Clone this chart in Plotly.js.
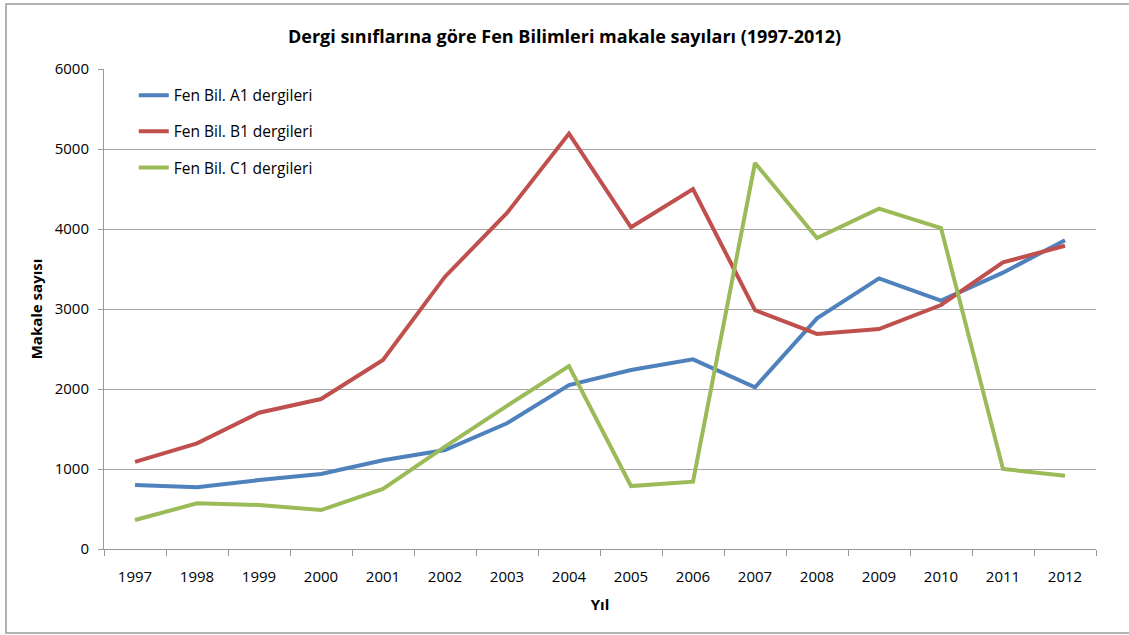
<!DOCTYPE html>
<html>
<head>
<meta charset="utf-8">
<script src="https://cdn.plot.ly/plotly-3.0.1.min.js"></script>
<style>
  html, body { margin: 0; padding: 0; background: #fff; }
  #chart { width: 1129px; height: 635px; }
</style>
</head>
<body>
<div id="chart"></div>
<script>
const years = ['1997','1998','1999','2000','2001','2002','2003','2004','2005','2006','2007','2008','2009','2010','2011','2012'];
const seriesA1 = [800, 771, 862, 937, 1110, 1237, 1571, 2050, 2237, 2371, 2021, 2883, 3383, 3104, 3454, 3860];
const seriesB1 = [1090, 1321, 1704, 1875, 2362, 3404, 4200, 5192, 4021, 4500, 2985, 2688, 2750, 3050, 3583, 3790];
const seriesC1 = [362, 571, 550, 487, 750, 1279, 1790, 2287, 787, 842, 4825, 3888, 4254, 4012, 1000, 917];
const names = ['Fen Bil. A1 dergileri', 'Fen Bil. B1 dergileri', 'Fen Bil. C1 dergileri'];
const colors = ['#4F81BD', '#C0504D', '#9BBB59'];

const font = 'Open Sans, Noto Sans, sans-serif';
const data = [seriesA1, seriesB1, seriesC1].map((vals, i) => ({
  type: 'scatter',
  mode: 'lines',
  x: years,
  y: vals,
  name: names[i],
  legendgroup: 'g' + i,
  line: { color: colors[i], width: 4 }
}));

const layout = {
  width: 1129,
  height: 635,
  margin: { l: 104, r: 33, t: 69, b: 86 },
  paper_bgcolor: '#ffffff',
  plot_bgcolor: '#ffffff',
  font: { family: font, size: 15, color: '#000' },
  title: {
    text: '<b>Dergi sınıflarına göre Fen Bilimleri makale sayıları (1997-2012)</b>',
    font: { family: font, size: 18, color: '#000' },
    x: 0.5, xanchor: 'center',
    y: 0.942, yanchor: 'middle'
  },
  xaxis: {
    type: 'category',
    range: [-0.5, 15.5],
    tickson: 'boundaries',
    ticks: 'outside',
    ticklen: 6,
    tickcolor: '#999',
    ticklabelstandoff: 14,
    showline: true,
    linecolor: '#999',
    linewidth: 1,
    showgrid: false,
    zeroline: false,
    tickfont: { family: font, size: 15, color: '#000' },
    title: { text: '<b>Yıl</b>', font: { family: font, size: 15, color: '#000' }, standoff: 14 }
  },
  yaxis: {
    range: [0, 6000],
    dtick: 1000,
    ticks: 'outside',
    ticklen: 5,
    tickcolor: '#999',
    ticklabelstandoff: 6,
    showline: true,
    linecolor: '#999',
    linewidth: 1,
    gridcolor: '#A6A6A6',
    gridwidth: 1,
    zeroline: false,
    tickfont: { family: font, size: 15, color: '#000' },
    title: { text: '<b>Makale sayısı</b>', font: { family: font, size: 15, color: '#000' }, standoff: 8 }
  },
  legend: {
    x: 0.03, xanchor: 'left',
    y: 0.98, yanchor: 'top',
    bgcolor: 'rgba(0,0,0,0)',
    font: { family: font, size: 15.5, color: '#000' },
    itemwidth: 30,
    tracegroupgap: 13
  },
  shapes: [{
    type: 'rect', xref: 'paper', yref: 'paper',
    x0: (6 - 104) / 992, x1: (1135 - 104) / 992,
    y0: (549 - 633) / 480, y1: (549 - 4) / 480,
    line: { color: '#9a9a9a', width: 1.5 },
    layer: 'below'
  }]
};

Plotly.newPlot('chart', data, layout, { displayModeBar: false, responsive: false });
</script>
</body>
</html>
